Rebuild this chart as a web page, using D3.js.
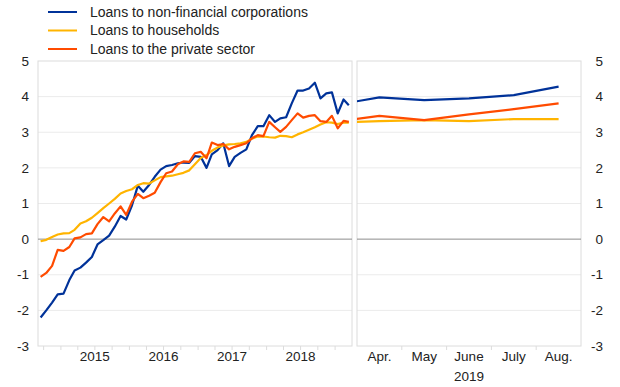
<!DOCTYPE html>
<html>
<head>
<meta charset="utf-8">
<script src="https://cdnjs.cloudflare.com/ajax/libs/d3/7.8.5/d3.min.js"></script>
<style>
  body { margin: 0; background: #fff; }
  svg text { font-family: "Liberation Sans", Arial, sans-serif; fill: #222; }
</style>
</head>
<body>
<div id="content"></div>
<script>
(function(){

  // monthly, Sep 2014 .. Mar 2019
  var startMonth = new Date(2014, 8, 1);

  var nfc = [
    -2.2, -2.0, -1.78, -1.55,
    -1.53, -1.15, -0.88, -0.8, -0.66, -0.5, -0.15, -0.03, 0.1, 0.35, 0.65, 0.55,
    0.95, 1.5, 1.33, 1.52, 1.75, 1.95, 2.05, 2.08, 2.13, 2.15, 2.14, 2.33,
    2.31, 2.0, 2.38, 2.5, 2.69, 2.05, 2.31, 2.42, 2.52, 2.92, 3.17, 3.17,
    3.48, 3.29, 3.39, 3.42, 3.81, 4.17, 4.17, 4.23, 4.39, 3.95, 4.09, 4.12,
    3.53, 3.92, 3.76
  ];

  var households = [
    -0.06, -0.02, 0.06, 0.13,
    0.16, 0.17, 0.26, 0.44, 0.5, 0.6, 0.73, 0.87, 1.0, 1.13, 1.28, 1.35,
    1.4, 1.52, 1.57, 1.56, 1.65, 1.74, 1.76, 1.78, 1.82, 1.86, 1.93, 2.1,
    2.28, 2.36, 2.48, 2.57, 2.63, 2.66, 2.67, 2.69, 2.73, 2.82, 2.88, 2.88,
    2.86, 2.85, 2.9, 2.89, 2.86, 2.94, 3.0, 3.07, 3.14, 3.22, 3.28, 3.27,
    3.23, 3.27, 3.27
  ];

  var privateSector = [
    -1.06, -0.95, -0.75, -0.3,
    -0.33, -0.22, 0.02, 0.05, 0.14, 0.16, 0.42, 0.62, 0.5, 0.72, 0.92, 0.68,
    1.05, 1.27, 1.15, 1.22, 1.3, 1.6, 1.85, 1.9, 2.1, 2.18, 2.17, 2.41,
    2.45, 2.27, 2.71, 2.64, 2.67, 2.52, 2.59, 2.64, 2.69, 2.83, 2.92, 2.89,
    3.29, 3.14, 3.01, 3.15, 3.34, 3.53, 3.41, 3.46, 3.48, 3.31, 3.29, 3.46,
    3.11, 3.32, 3.29
  ];

  // 2019 panel, Apr .. Aug
  var months2019 = ["Apr.", "May", "June", "July", "Aug."];
  var nfc2019 = [3.98, 3.9, 3.95, 4.04, 4.28];
  var households2019 = [3.31, 3.34, 3.31, 3.37, 3.37];
  var privateSector2019 = [3.46, 3.34, 3.5, 3.65, 3.81];

  var years = [2015, 2016, 2017, 2018];
  var yTicks = [-3, -2, -1, 0, 1, 2, 3, 4, 5];

  var seriesNames = ["Loans to non-financial corporations", "Loans to households", "Loans to the private sector"];
  var colors = ["#003299", "#ffb400", "#ff4b00"];

  var width = 620, height = 387;

  var svg = d3.select("#content").append("svg")
      .attr("width", width)
      .attr("height", height);

  var y = d3.scaleLinear().domain([-3, 5]).range([346, 61]);

  var x = d3.scaleTime()
      .domain([startMonth, new Date(2019, 3, 1)])
      .range([38, 352]);

  var x2 = d3.scaleLinear().domain([-0.5, 4.5]).range([357, 581]);

  function dateOf(i) {
    var d = d3.timeMonth.offset(startMonth, i);
    return d3.timeDay.offset(d, 14);
  }

  // gridlines
  [[38, 352], [357, 581]].forEach(function(r) {
    svg.selectAll(null)
        .data(yTicks.filter(function(t) { return t !== 0 && t !== -3 && t !== 5; }))
      .enter().append("line")
        .attr("x1", r[0]).attr("x2", r[1])
        .attr("y1", function(d) { return y(d); })
        .attr("y2", function(d) { return y(d); })
        .style("stroke", "#ebebeb")
        .style("stroke-width", "1px");

    svg.append("rect")
        .attr("x", r[0]).attr("y", y(5))
        .attr("width", r[1] - r[0]).attr("height", y(-3) - y(5))
        .style("fill", "none")
        .style("stroke", "#dcdcdc")
        .style("stroke-width", "1px");

    svg.append("line")
        .attr("x1", r[0]).attr("x2", r[1])
        .attr("y1", y(0)).attr("y2", y(0))
        .style("stroke", "#8c8c8c")
        .style("stroke-width", "1px");
  });

  // y axis labels, left and right
  svg.selectAll(".ylabL")
      .data(yTicks)
    .enter().append("text")
      .attr("x", 29)
      .attr("y", function(d) { return y(d); })
      .attr("dy", "0.35em")
      .attr("text-anchor", "end")
      .style("font-size", "13.5px")
      .text(function(d) { return d; });

  svg.selectAll(".ylabR")
      .data(yTicks)
    .enter().append("text")
      .attr("x", 603)
      .attr("y", function(d) { return y(d); })
      .attr("dy", "0.35em")
      .attr("text-anchor", "end")
      .style("font-size", "13.5px")
      .text(function(d) { return d; });

  // x ticks (quarters) and year labels
  var quarters = d3.timeMonth.every(3).range(new Date(2014, 9, 1), new Date(2019, 3, 1));
  svg.selectAll(".qtick")
      .data(quarters)
    .enter().append("line")
      .attr("x1", function(d) { return x(d); })
      .attr("x2", function(d) { return x(d); })
      .attr("y1", y(-3)).attr("y2", y(-3) + 4)
      .style("stroke", "#dcdcdc");

  svg.selectAll(".year")
      .data(years)
    .enter().append("text")
      .attr("x", function(d) { return x(new Date(d, 6, 1)); })
      .attr("y", 361)
      .attr("text-anchor", "middle")
      .style("font-size", "13.5px")
      .text(function(d) { return d; });

  svg.selectAll(".mtick")
      .data(d3.range(months2019.length - 1))
    .enter().append("line")
      .attr("x1", function(d) { return x2(d + 0.5); })
      .attr("x2", function(d) { return x2(d + 0.5); })
      .attr("y1", y(-3)).attr("y2", y(-3) + 4)
      .style("stroke", "#dcdcdc");

  svg.selectAll(".month")
      .data(months2019)
    .enter().append("text")
      .attr("x", function(d, i) { return x2(i); })
      .attr("y", 361)
      .attr("text-anchor", "middle")
      .style("font-size", "13.5px")
      .text(function(d) { return d; });

  svg.append("text")
      .attr("x", x2(2))
      .attr("y", 381)
      .attr("text-anchor", "middle")
      .style("font-size", "13.5px")
      .text("2019");

  // lines
  var line = d3.line()
      .x(function(d, i) { return x(dateOf(i)); })
      .y(function(d) { return y(d); });

  [nfc, households, privateSector].forEach(function(s, k) {
    svg.append("path")
        .data([s])
        .attr("d", line)
        .style("fill", "none")
        .style("stroke", colors[k])
        .style("stroke-width", "2.2px")
        .style("stroke-linejoin", "round");
  });

  svg.append("clipPath")
      .attr("id", "clip2019")
    .append("rect")
      .attr("x", x2(-0.5)).attr("y", y(5))
      .attr("width", x2(4.5) - x2(-0.5)).attr("height", y(-3) - y(5));

  // continue from the March value, clipped at the panel edge
  var line2 = d3.line()
      .x(function(d, i) { return x2(i - 1); })
      .y(function(d) { return y(d); });

  [[nfc, nfc2019], [households, households2019], [privateSector, privateSector2019]].forEach(function(p, k) {
    var s = [p[0][p[0].length - 1]].concat(p[1]);
    svg.append("path")
        .data([s])
        .attr("d", line2)
        .attr("clip-path", "url(#clip2019)")
        .style("fill", "none")
        .style("stroke", colors[k])
        .style("stroke-width", "2.2px")
        .style("stroke-linejoin", "round");
  });

  // legend
  var legend = svg.selectAll(".legend")
      .data(seriesNames)
    .enter().append("g")
      .attr("transform", function(d, i) { return "translate(48," + (12 + i * 18.5) + ")"; });

  legend.append("line")
      .attr("x1", 0).attr("x2", 29)
      .style("stroke", function(d, i) { return colors[i]; })
      .style("stroke-width", "2px");

  legend.append("text")
      .attr("x", 42)
      .attr("dy", "0.35em")
      .style("font-size", "14px")
      .text(function(d) { return d; });

})();
</script>
</body>
</html>
